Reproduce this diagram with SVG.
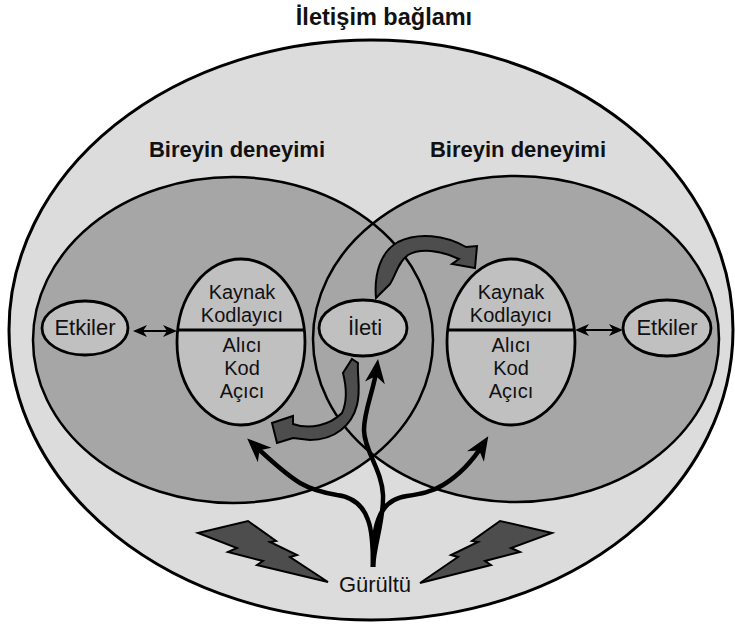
<svg xmlns="http://www.w3.org/2000/svg" width="735" height="626" viewBox="0 0 735 626">
<style>
.t{font-family:"Liberation Sans",Arial,sans-serif;font-size:22px;fill:#111;text-anchor:middle}
.s{font-family:"Liberation Sans",Arial,sans-serif;font-size:20px;fill:#111;text-anchor:middle}
.h{font-family:"Liberation Sans",Arial,sans-serif;font-size:22px;font-weight:bold;fill:#111;text-anchor:middle}
.node{fill:#c0c0c0;stroke:#000;stroke-width:2.8}
.dark{fill:#4d4d4d;stroke:#000;stroke-width:2;stroke-linejoin:miter}
.noise{fill:none;stroke:#000;stroke-width:4.5;stroke-linecap:butt}
.dbl{fill:none;stroke:#000;stroke-width:2.2}
</style>
<defs>
<marker id="big" markerUnits="userSpaceOnUse" markerWidth="30" markerHeight="30" refX="16" refY="0" orient="auto" viewBox="-2 -12 30 24" overflow="visible">
<path d="M24,0 L0,-10 L7,0 L0,10 Z" fill="#000"/>
</marker>
<marker id="sm" markerUnits="userSpaceOnUse" markerWidth="18" markerHeight="14" refX="12" refY="0" orient="auto-start-reverse" viewBox="-1 -7 16 14" overflow="visible">
<path d="M14,0 L0,-6 L4,0 L0,6 Z" fill="#000"/>
</marker>
</defs>

<text class="h" x="384" y="25" style="font-size:23.5px">İletişim bağlamı</text>

<g id="context">
<ellipse cx="371" cy="330" rx="362" ry="290" fill="#dcdcdc" stroke="#000" stroke-width="3"/>
</g>

<g id="experience-left">
<ellipse cx="233" cy="340" rx="200" ry="163" fill="#a6a6a6"/>
<text class="h" x="237" y="157">Bireyin deneyimi</text>
</g>
<g id="experience-right">
<ellipse cx="516" cy="339" rx="203" ry="163" fill="#a6a6a6"/>
<text class="h" x="518" y="157">Bireyin deneyimi</text>
</g>
<g id="experience-outlines">
<ellipse cx="233" cy="340" rx="200" ry="163" fill="none" stroke="#000" stroke-width="2.5"/>
<ellipse cx="516" cy="339" rx="203" ry="163" fill="none" stroke="#000" stroke-width="2.5"/>
</g>

<g id="etkiler-left">
<ellipse class="node" cx="85" cy="328" rx="43" ry="27"/>
<text class="t" x="85" y="335">Etkiler</text>
</g>
<g id="etkiler-right">
<ellipse class="node" cx="667" cy="328" rx="44" ry="28"/>
<text class="t" x="667" y="335">Etkiler</text>
</g>

<g id="person-left">
<ellipse class="node" cx="241" cy="342" rx="64" ry="83"/>
<line x1="177" y1="330" x2="305" y2="330" stroke="#000" stroke-width="2.8"/>
<text class="s" x="242" y="299">Kaynak</text>
<text class="s" x="242" y="322">Kodlayıcı</text>
<text class="s" x="242" y="352">Alıcı</text>
<text class="s" x="242" y="375">Kod</text>
<text class="s" x="242" y="398">Açıcı</text>
</g>
<g id="person-right">
<ellipse class="node" cx="511" cy="342" rx="64" ry="83"/>
<line x1="447" y1="330" x2="575" y2="330" stroke="#000" stroke-width="2.8"/>
<text class="s" x="511" y="299">Kaynak</text>
<text class="s" x="511" y="322">Kodlayıcı</text>
<text class="s" x="511" y="352">Alıcı</text>
<text class="s" x="511" y="375">Kod</text>
<text class="s" x="511" y="398">Açıcı</text>
</g>

<g id="ileti">
<ellipse class="node" cx="363" cy="328" rx="44" ry="28"/>
<text class="t" x="365" y="335">İleti</text>
</g>

<g id="noise">
<path class="dark" d="M198,533 L248,521 L276,541 L270,542 L297,555 L290,557 L328,582 L257,565 L263,561 L228,552 L237,548 Z"/>
<path class="dark" d="M552,533 L500,521 L472,541 L478,542 L451,555 L458,557 L420,583 L491,565 L485,561 L520,552 L511,548 Z"/>
<text class="t" x="375" y="592">Gürültü</text>
</g>

<g id="connectors">
<line class="dbl" x1="135" y1="331" x2="175" y2="331" marker-start="url(#sm)" marker-end="url(#sm)"/>
<line class="dbl" x1="577" y1="330" x2="621" y2="330" marker-start="url(#sm)" marker-end="url(#sm)"/>
<path class="dark" d="M376,298 C374,275 380,252 398,242 C418,232 445,235 466,247 L477,246 L475,268 L452,264 L459,259 C440,250 420,248 408,255 C398,262 396,275 390,284 Z"/>
<path class="dark" d="M352,359 L358,363 C357,375 361,390 357,405 C352,425 335,440 310,440 L293,438 L277,443 L272,423 L293,416 L293,424 C310,430 330,425 342,413 C348,400 346,385 343,373 Z"/>
<path class="noise" d="M373,567 C373,545 372,530 368,520 C363,505 352,497 337,495 C325,493 312,490 300,483 C285,474 270,460 253,444" marker-end="url(#big)"/>
<path class="noise" d="M373,567 C373,545 374,530 378,520 C383,505 393,498 407,496 C420,494 432,492 443,485 C458,476 472,462 484,443" marker-end="url(#big)"/>
<path class="noise" d="M373,567 C374,545 384,520 383,495 C382,470 364,450 364,430 C364,410 374,390 377,367" marker-end="url(#big)"/>
</g>
</svg>
